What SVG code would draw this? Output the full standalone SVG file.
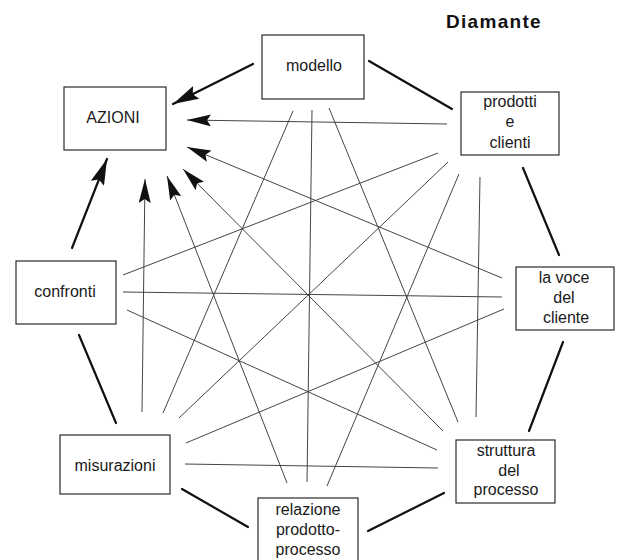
<svg xmlns="http://www.w3.org/2000/svg" width="618" height="560" viewBox="0 0 618 560">
  <style>
    .box { fill: none; stroke: #2a2a2a; stroke-width: 1.2; }
    .lbl { font-family: "Liberation Sans", Arial, sans-serif; font-size: 16px; fill: #1a1a1a; text-anchor: middle; }
    .title { font-family: "Liberation Sans", Arial, sans-serif; font-size: 19px; font-weight: bold; fill: #111; letter-spacing: 1.3px; }
    .thin { stroke: #444; stroke-width: 1; fill: none; }
    .thick { stroke: #111; stroke-width: 2.2; fill: none; stroke-linecap: round; }
    .tip { marker-end: url(#head); }
    .tipBig { marker-end: url(#headBig); }
  </style>
  <defs>
    <marker id="head" viewBox="0 0 24 12" markerWidth="24" markerHeight="12" refX="24" refY="6" orient="auto" markerUnits="userSpaceOnUse">
      <path d="M0,0 L24,6 L0,12 L4,6 Z" fill="#111"/>
    </marker>
    <marker id="headBig" viewBox="0 0 26 14" markerWidth="26" markerHeight="14" refX="26" refY="7" orient="auto" markerUnits="userSpaceOnUse">
      <path d="M0,0 L26,7 L0,14 L4,7 Z" fill="#111"/>
    </marker>
  </defs>

  <rect width="618" height="560" fill="#fff"/>

  <text class="title" x="446" y="28">Diamante</text>

  <g id="connectors">
    <!-- outer ring -->
    <line class="thick tipBig" x1="253" y1="64" x2="173" y2="104"/>
    <line class="thick" x1="369" y1="61" x2="452" y2="109"/>
    <line class="thick" x1="523" y1="168" x2="559" y2="255"/>
    <line class="thick" x1="563" y1="342" x2="529" y2="431"/>
    <line class="thick" x1="444" y1="493" x2="368" y2="531"/>
    <line class="thick" x1="248" y1="527" x2="182" y2="489"/>
    <line class="thick" x1="116" y1="423" x2="79" y2="335"/>
    <line class="thick tipBig" x1="72" y1="248" x2="107" y2="159"/>

    <!-- inner links into AZIONI -->
    <line class="thin tip" x1="447" y1="124" x2="187" y2="120"/>
    <line class="thin tip" x1="502" y1="278" x2="187" y2="147"/>
    <line class="thin tip" x1="443" y1="431" x2="183" y2="169"/>
    <line class="thin tip" x1="287" y1="483" x2="167" y2="176"/>
    <line class="thin tip" x1="142" y1="412" x2="145" y2="179"/>

    <!-- other inner links -->
    <line class="thin" x1="293" y1="111" x2="163" y2="413"/>
    <line class="thin" x1="312" y1="110" x2="307" y2="482"/>
    <line class="thin" x1="329" y1="108" x2="458" y2="422"/>
    <line class="thin" x1="438" y1="153" x2="123" y2="275"/>
    <line class="thin" x1="448" y1="162" x2="179" y2="418"/>
    <line class="thin" x1="459" y1="174" x2="327" y2="486"/>
    <line class="thin" x1="480" y1="177" x2="476" y2="417"/>
    <line class="thin" x1="502" y1="297" x2="123" y2="292"/>
    <line class="thin" x1="504" y1="309" x2="186" y2="443"/>
    <line class="thin" x1="437" y1="450" x2="127" y2="310"/>
    <line class="thin" x1="438" y1="468" x2="185" y2="464"/>
  </g>

  <g id="azioni">
    <rect class="box" x="64" y="87" width="102" height="63"/>
    <text class="lbl" x="113" y="123">AZIONI</text>
  </g>

  <g id="modello">
    <rect class="box" x="262" y="35" width="102" height="64"/>
    <text class="lbl" x="314" y="71">modello</text>
  </g>

  <g id="prodotti">
    <rect class="box" x="461" y="92" width="98" height="63"/>
    <text class="lbl" x="510" y="107">prodotti</text>
    <text class="lbl" x="510" y="127">e</text>
    <text class="lbl" x="510" y="148">clienti</text>
  </g>

  <g id="voce">
    <rect class="box" x="516" y="267" width="98" height="63"/>
    <text class="lbl" x="564" y="283">la voce</text>
    <text class="lbl" x="564" y="303">del</text>
    <text class="lbl" x="566" y="323">cliente</text>
  </g>

  <g id="struttura">
    <rect class="box" x="456" y="440" width="99" height="63"/>
    <text class="lbl" x="506" y="456">struttura</text>
    <text class="lbl" x="509" y="476">del</text>
    <text class="lbl" x="506" y="495">processo</text>
  </g>

  <g id="relazione">
    <rect class="box" x="258" y="498" width="100" height="70"/>
    <text class="lbl" x="308" y="515">relazione</text>
    <text class="lbl" x="308" y="535">prodotto-</text>
    <text class="lbl" x="308" y="555">processo</text>
  </g>

  <g id="misurazioni">
    <rect class="box" x="60" y="435" width="110" height="59"/>
    <text class="lbl" x="115" y="471">misurazioni</text>
  </g>

  <g id="confronti">
    <rect class="box" x="16" y="261" width="100" height="63"/>
    <text class="lbl" x="65" y="297">confronti</text>
  </g>
</svg>
